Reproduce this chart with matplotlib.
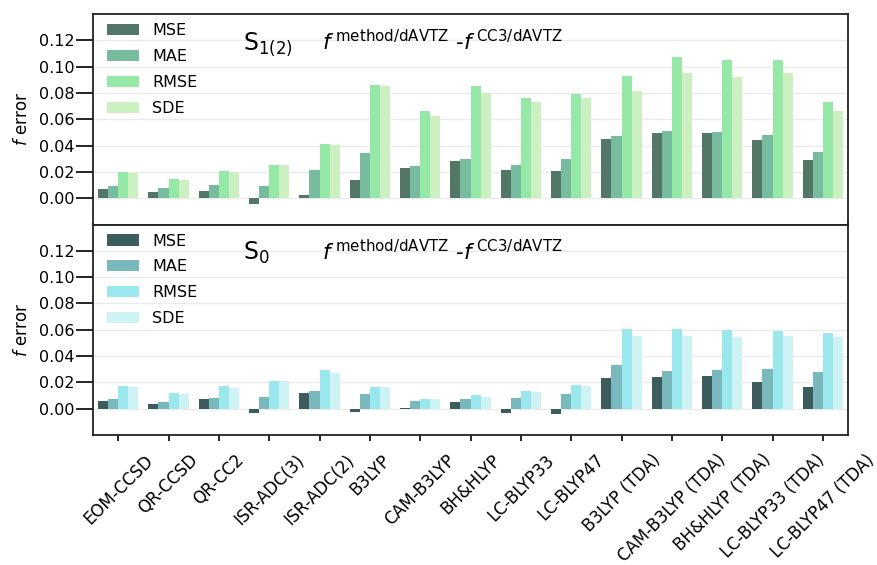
import matplotlib
matplotlib.use("Agg")
import matplotlib.pyplot as plt
import numpy as np

methods = ["EOM-CCSD", "QR-CCSD", "QR-CC2", "ISR-ADC(3)", "ISR-ADC(2)", "B3LYP",
           "CAM-B3LYP", "BH&HLYP", "LC-BLYP33", "LC-BLYP47", "B3LYP (TDA)",
           "CAM-B3LYP (TDA)", "BH&HLYP (TDA)", "LC-BLYP33 (TDA)", "LC-BLYP47 (TDA)"]
metrics = ["MSE", "MAE", "RMSE", "SDE"]

# S1(2) panel
s1_mse = [0.0069, 0.0046, 0.0056, -0.0046, 0.0028, 0.0137, 0.0231, 0.0282, 0.0218, 0.0208,
          0.0452, 0.0492, 0.0492, 0.0444, 0.0294]
s1_mae = [0.0096, 0.0074, 0.0104, 0.0089, 0.0213, 0.0343, 0.0241, 0.0299, 0.0254, 0.0299,
          0.0475, 0.0508, 0.0503, 0.0480, 0.0353]
s1_rmse = [0.0200, 0.0147, 0.0208, 0.0249, 0.0411, 0.0860, 0.0665, 0.0850, 0.0764, 0.0792,
           0.0931, 0.1076, 0.1048, 0.1053, 0.0728]
s1_sde = [0.0188, 0.0142, 0.0198, 0.0249, 0.0404, 0.0850, 0.0624, 0.0802, 0.0734, 0.0764,
          0.0815, 0.0954, 0.0924, 0.0954, 0.0665]

# S0 panel
s0_mse = [0.0058, 0.0036, 0.0074, -0.0033, 0.0122, -0.0025, 0.0005, 0.0051, -0.0033, -0.0041,
          0.0236, 0.0244, 0.0249, 0.0203, 0.0168]
s0_mae = [0.0076, 0.0048, 0.0079, 0.0091, 0.0135, 0.0109, 0.0058, 0.0074, 0.0079, 0.0109,
          0.0330, 0.0289, 0.0294, 0.0299, 0.0282]
s0_rmse = [0.0173, 0.0117, 0.0173, 0.0213, 0.0294, 0.0168, 0.0074, 0.0104, 0.0132, 0.0178,
           0.0602, 0.0602, 0.0596, 0.0589, 0.0574]
s0_sde = [0.0162, 0.0109, 0.0155, 0.0208, 0.0274, 0.0168, 0.0074, 0.0086, 0.0127, 0.0173,
          0.0551, 0.0551, 0.0546, 0.0556, 0.0546]

colors_s1 = ["#527766", "#78bca0", "#96e8a7", "#cdf0c2"]
colors_s0 = ["#3d5c5e", "#79b8bd", "#9ae7ed", "#cdf3f4"]

yticks = [0.0, 0.02, 0.04, 0.06, 0.08, 0.10, 0.12]

fig, (ax1, ax2) = plt.subplots(2, 1, sharex=True, figsize=(8.78, 5.65), dpi=100)
fig.subplots_adjust(left=93/878, right=848/878, top=1-14/565, bottom=1-435/565, hspace=0)

x = np.arange(len(methods))
width = 0.2
offsets = [-1.5, -0.5, 0.5, 1.5]

formula = r"$f^{\;\mathrm{method/dAVTZ}}$ -$f^{\;\mathrm{CC3/dAVTZ}}$"

for ax, data, cols, state in [
    (ax1, [s1_mse, s1_mae, s1_rmse, s1_sde], colors_s1, r"S$_{1(2)}$"),
    (ax2, [s0_mse, s0_mae, s0_rmse, s0_sde], colors_s0, r"S$_{0}$"),
]:
    ax.set_axisbelow(True)
    ax.yaxis.grid(True, color="#ebebeb", linewidth=1.0)
    for vals, c, off, lab in zip(data, cols, offsets, metrics):
        ax.bar(x + off * width, vals, width=width, color=c, label=lab, linewidth=0)
    ax.set_ylim(-0.02, 0.14)
    ax.set_xlim(-0.5, len(methods) - 0.5)
    ax.set_yticks(yticks)
    ax.set_yticklabels([f"{v:.2f}" for v in yticks], fontsize=11.5)
    ax.tick_params(axis="y", direction="out", length=12, width=1.2, pad=1)
    ax.set_ylabel(r"$f$ error", fontsize=12, labelpad=6)
    for sp in ax.spines.values():
        sp.set_linewidth(1.3)
        sp.set_color("#222222")
    ax.legend(loc="upper left", frameon=False, fontsize=11.5, labelspacing=0.68,
              bbox_to_anchor=(0.0, 1.025))
    ax.text(0.199, 0.83, state, transform=ax.transAxes, fontsize=17, va="baseline")
    ax.text(0.303, 0.83, formula, transform=ax.transAxes, fontsize=15.5, va="baseline")

ax1.tick_params(axis="x", bottom=False, labelbottom=False)
ax2.set_xticks(x)
ax2.set_xticklabels(methods, rotation=45, ha="center", fontsize=12)
ax2.tick_params(axis="x", direction="out", length=4.5, width=1.2, pad=7)

fig.savefig("out.png", dpi=100)
